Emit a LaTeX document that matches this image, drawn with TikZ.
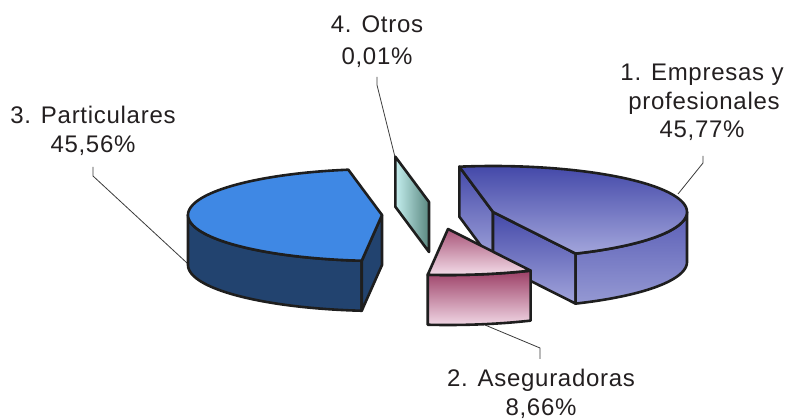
\documentclass[tikz,border=0pt]{standalone}
\usepackage{fontspec}
\newfontfamily\lblfont{Liberation Sans}[LetterSpace=3]
\definecolor{outl}{HTML}{1E1E1E}
\definecolor{txt}{HTML}{231F20}
\definecolor{leadc}{HTML}{3A3A3A}
\definecolor{partTop}{HTML}{3F88E4}
\definecolor{partSide}{HTML}{22436F}
\definecolor{empDark}{HTML}{4449A9}
\definecolor{empLight}{HTML}{A2A5DB}
\definecolor{empWallA}{HTML}{5A5EB6}
\definecolor{empWallB}{HTML}{9599D3}
\definecolor{pinkDark}{HTML}{9C3F66}
\definecolor{pinkLight}{HTML}{F0D6E4}
\definecolor{pinkTopA}{HTML}{A85478}
\definecolor{pinkTopB}{HTML}{F3DCE8}
\definecolor{otrosA}{HTML}{C4EEEE}
\definecolor{otrosB}{HTML}{5A8880}
\begin{document}
\begin{tikzpicture}[x=1pt,y=-1pt,
  edge/.style={draw=outl, line width=2.6, line join=round},
  lbl/.style={font=\lblfont\fontsize{24}{29}\selectfont, text=txt, inner sep=0pt, anchor=base},
  leader/.style={draw=leadc, line width=0.8}]
\useasboundingbox (0,0) rectangle (787,419);

% ---------- labels ----------
\node[lbl] (l3a) at (93,124) {3. Particulares};
\node[lbl] (l3b) at (93,153) {45,56\%};
\node[lbl] (l4a) at (377,33) {4. Otros};
\node[lbl] (l4b) at (377,65) {0,01\%};
\node[lbl] (l1a) at (702,81) {1. Empresas y};
\node[lbl] (l1b) at (704,110) {profesionales};
\node[lbl] (l1c) at (702,138) {45,77\%};
\node[lbl] (l2a) at (541,387) {2. Aseguradoras};
\node[lbl] (l2b) at (541,415) {8,66\%};

% ---------- leader lines ----------
\coordinate (L3a) at (93,167);
\coordinate (L3b) at (93,176);
\coordinate (L3c) at (187,263);
\draw[leader] (L3a) -- (L3b) -- (L3c);
\coordinate (L4a) at (377,77);
\coordinate (L4b) at (377,85);
\coordinate (L4c) at (395,157);
\draw[leader] (L4a) -- (L4b) -- (L4c);
\coordinate (L1a) at (703,156);
\coordinate (L1b) at (703,163);
\coordinate (L1c) at (678,194);
\draw[leader] (L1a) -- (L1b) -- (L1c);
\coordinate (L2a) at (485,325);
\coordinate (L2b) at (540,348);
\coordinate (L2c) at (540,359);
\draw[leader] (L2a) -- (L2b) -- (L2c);

% ---------- 3. Particulares ----------
\coordinate (C3) at (382,215);
\coordinate (C3b) at (382,265);
\coordinate (P3) at ({382+194*cos(96)},{215+46*sin(96)});
\coordinate (P3b) at ({382+194*cos(96)},{265+46*sin(96)});
\path[edge, fill=partSide]
  plot[domain=180:96, samples=40] ({382+194*cos(\x)},{215+46*sin(\x)})
  -- plot[domain=96:180, samples=40] ({382+194*cos(\x)},{265+46*sin(\x)}) -- cycle;
\path[edge, fill=partSide] (C3) -- (P3) -- (P3b) -- (C3b) -- cycle;
\path[edge, fill=partTop] (C3)
  -- plot[domain=260:96, samples=80] ({382+194*cos(\x)},{215+46*sin(\x)}) -- cycle;

% ---------- 4. Otros ----------
\coordinate (C4) at (429,202);
\coordinate (C4b) at (429,252);
\coordinate (R4) at ({429+194*cos(260)},{202+46*sin(260)});
\coordinate (R4b) at ({429+194*cos(260)},{252+46*sin(260)});
\path[edge, left color=otrosA, right color=otrosB] (R4) -- (C4) -- (C4b) -- (R4b) -- cycle;

% ---------- 1. Empresas y profesionales ----------
\coordinate (C1) at (493,212);
\coordinate (C1b) at (493,262);
\coordinate (A1) at ({493+194*cos(-100)},{212+46*sin(-100)});
\coordinate (A1b) at ({493+194*cos(-100)},{262+46*sin(-100)});
\coordinate (B1) at ({493+194*cos(64.8)},{212+46*sin(64.8)});
\coordinate (B1b) at ({493+194*cos(64.8)},{262+46*sin(64.8)});
\path[edge, top color=empDark, bottom color=empLight] (C1) -- (A1) -- (A1b) -- (C1b) -- cycle;
\path[edge, top color=empDark, bottom color=empLight] (C1) -- (B1) -- (B1b) -- (C1b) -- cycle;
\path[edge, top color=empWallA, bottom color=empWallB]
  plot[domain=0:64.8, samples=40] ({493+194*cos(\x)},{212+46*sin(\x)})
  -- plot[domain=64.8:0, samples=40] ({493+194*cos(\x)},{262+46*sin(\x)}) -- cycle;
\path[edge, top color=empDark, bottom color=empLight] (C1)
  -- plot[domain=-100:64.8, samples=80] ({493+194*cos(\x)},{212+46*sin(\x)}) -- cycle;

% ---------- 2. Aseguradoras ----------
\coordinate (C2) at (448,229);
\path[edge, top color=pinkDark, bottom color=pinkLight]
  plot[domain=64.8:96, samples=20] ({448+194*cos(\x)},{229+46*sin(\x)})
  -- plot[domain=96:64.8, samples=20] ({448+194*cos(\x)},{279+46*sin(\x)}) -- cycle;
\path[edge, top color=pinkTopA, bottom color=pinkTopB] (C2)
  -- plot[domain=64.8:96, samples=20] ({448+194*cos(\x)},{229+46*sin(\x)}) -- cycle;
\end{tikzpicture}
\end{document}
